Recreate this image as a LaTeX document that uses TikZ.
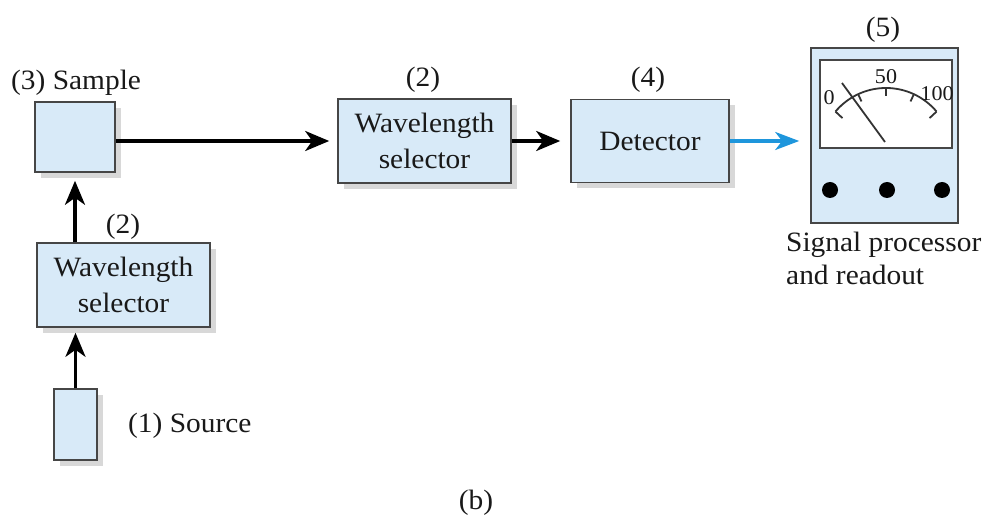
\documentclass[tikz,border=0pt]{standalone}
\usepackage{fontspec}
\setmainfont{Liberation Serif}[FakeStretch=1.05]
\usetikzlibrary{arrows.meta,shadows}
\definecolor{boxfill}{RGB}{216,234,248}
\definecolor{boxline}{RGB}{70,70,70}
\definecolor{sigblue}{RGB}{30,150,220}
\begin{document}
\begin{tikzpicture}[x=1pt,y=-1pt,
  every node/.style={font=\fontsize{28}{36}\selectfont, text=black!90},
  blk/.style={draw=boxline, line width=1.6pt, fill=boxfill, inner sep=0pt, align=center,
    drop shadow={shadow xshift=6pt, shadow yshift=-6pt, fill=black!30, opacity=0.5}},
  arr/.style={line width=3.4pt, -{Stealth[length=24pt,width=20pt,inset=7pt]}},
  bluearr/.style={line width=3.4pt, draw=sigblue, -{Stealth[length=24pt,width=18pt,inset=7pt]}},
  meterline/.style={line width=1.8pt, draw=black!80},
  lbl/.style={inner sep=0pt},
  scalelbl/.style={inner sep=0pt, font=\fontsize{21}{21}\selectfont}
]
\useasboundingbox (0,0) rectangle (992,518);
\fill[white] (0,0) rectangle (992,518);

% boxes
\node[blk, minimum width=80pt, minimum height=70pt] (sample) at (75,137) {};
\node[blk, minimum width=173pt, minimum height=84pt] (ws1) at (123.5,285) {Wavelength\\selector};
\node[blk, minimum width=43pt, minimum height=71pt] (src) at (75.5,424.5) {};
\node[blk, minimum width=173pt, minimum height=84pt] (ws2) at (424.5,141) {Wavelength\\selector};
\node[blk, minimum width=158pt, minimum height=83pt] (det) at (650,141) {Detector};

% meter
\node[draw=boxline, line width=1.6pt, fill=boxfill, minimum width=147pt, minimum height=175pt, inner sep=0pt] (meter) at (884.5,135.5) {};
\node[draw=boxline, line width=1.6pt, fill=white, minimum width=132pt, minimum height=88pt, inner sep=0pt] (screen) at (886,104) {};
\draw[meterline] plot[domain=40:140, samples=40] ({886+66*cos(\x)},{154-66*sin(\x)});
\foreach \a in {115,90,65}
  \draw[meterline] ({886+66*cos(\a)},{154-66*sin(\a)}) -- ({886+58*cos(\a)},{154-58*sin(\a)});
\draw[meterline] ({886+66*cos(140)},{154-66*sin(140)}) -- ++(7,6.5);
\draw[meterline] ({886+66*cos(40)},{154-66*sin(40)}) -- ++(-7,6.5);
\draw[meterline] (842,83) -- (885,142);
\node[scalelbl] (s0) at (829,97.5) {0};
\node[scalelbl] (s50) at (886,77) {50};
\node[scalelbl] (s100) at (937,94) {100};
\fill (830,190) circle (8pt);
\fill (887,190) circle (8pt);
\fill (942,190) circle (8pt);

% arrows
\draw[arr, shorten >=8pt] (ws2.west -| sample.east) -- (ws2.west);
\draw[arr, shorten >=10pt] (ws2.east) -- (det.west);
\draw[bluearr, shorten >=11pt] (det.east) -- (meter.west |- det.east);
\draw[arr, shorten >=8pt] (ws1.north -| sample.south) -- (sample.south);
\draw[arr, shorten >=5pt] (src.north) -- (src.north |- ws1.south);

% labels
\node[lbl, anchor=base west] (lsample) at (11,90) {(3) Sample};
\node[lbl, anchor=base] (l2a) at (123,234) {(2)};
\node[lbl, anchor=base] (l2b) at (423,87) {(2)};
\node[lbl, anchor=base] (l4) at (648,87) {(4)};
\node[lbl, anchor=base] (l5) at (883,37) {(5)};
\node[lbl, anchor=base west] (lsrc) at (128,432) {(1) Source};
\node[lbl, anchor=base] (lb) at (476,509) {(b)};
\node[lbl, anchor=base west] (lsig1) at (786,252) {Signal processor};
\node[lbl, anchor=base west] (lsig2) at (786,284) {and readout};
\end{tikzpicture}
\end{document}
